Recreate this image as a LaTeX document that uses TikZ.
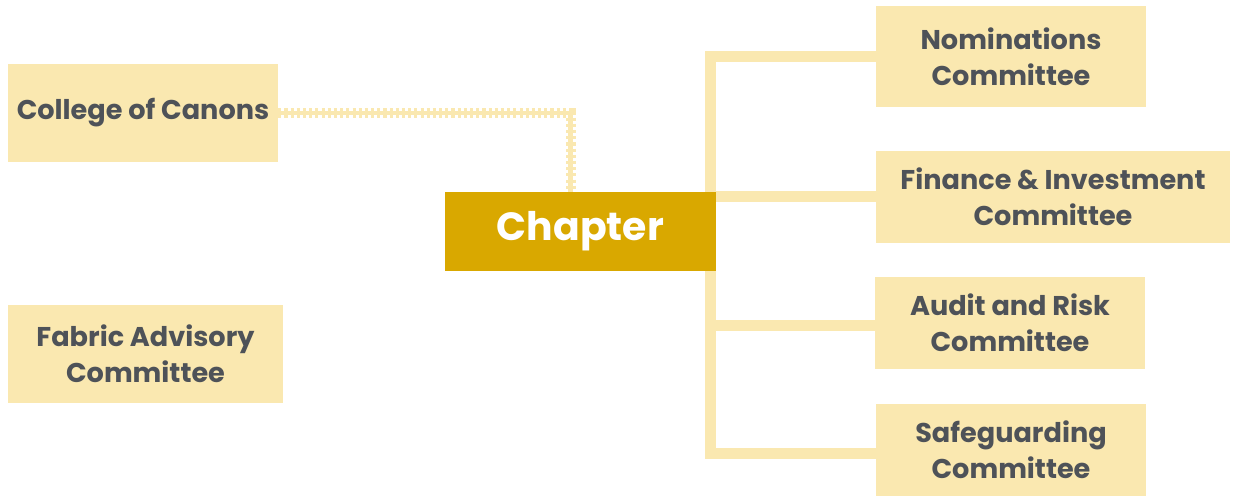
\documentclass[tikz,border=0pt]{standalone}
\usepackage{fontspec}
\setmainfont{Poppins}
\usetikzlibrary{backgrounds}

\definecolor{boxfill}{HTML}{FAE8B0}
\definecolor{gold}{HTML}{D9A800}
\definecolor{inkgray}{HTML}{4E5258}

\tikzset{
  unit/.style={draw=none,fill=boxfill,text=inkgray,align=center,
    font=\bfseries\fontsize{19.3}{25.5}\selectfont,inner sep=0pt},
  branch/.style={boxfill,line width=0.275cm},
  ladder/.style={boxfill,line width=0.25cm,dash pattern=on 2.2pt off 2.2pt,
    postaction={draw,boxfill,solid,line width=0.11cm}}
}

\begin{document}
\begin{tikzpicture}
  \useasboundingbox (0,0) rectangle (30.825,-12.425);

  \node[unit,minimum width=6.75cm,minimum height=2.45cm] (canons) at (3.575,-2.825) {College of Canons};
  \node[unit,minimum width=6.875cm,minimum height=2.45cm] (fabric) at (3.6375,-8.85) {Fabric Advisory\\Committee};
  \node[unit,fill=gold,text=white,minimum width=6.775cm,minimum height=1.975cm,
    font=\bfseries\fontsize{28}{32}\selectfont] (chapter) at (14.5125,-5.7875) {Chapter};
  \node[unit,minimum width=6.75cm,minimum height=2.525cm] (nom) at (25.275,-1.4125) {Nominations\\Committee};
  \node[unit,minimum width=8.85cm,minimum height=2.3cm] (fin) at (26.325,-4.925) {Finance \& Investment\\Committee};
  \node[unit,minimum width=6.75cm,minimum height=2.3cm] (audit) at (25.25,-8.075) {Audit and Risk\\Committee};
  \node[unit,minimum width=6.75cm,minimum height=2.3cm] (safe) at (25.275,-11.25) {Safeguarding\\Committee};

  \begin{pgfonlayer}{background}
    \fill[white] (0,0) rectangle (30.825,-12.425);
    % chapter to its committees
    \draw[branch] (nom.west) -| ([xshift=-0.1375cm]chapter.north east);
    \draw[branch] (fin.west) -| ([xshift=-0.1375cm]chapter.north east);
    \draw[branch] ([yshift=-0.075cm]audit.west) -| ([xshift=-0.1375cm]chapter.south east);
    \draw[branch] ([yshift=-0.1cm]safe.west) -| ([xshift=-0.1375cm]chapter.south east);
    % canons to chapter
    \draw[ladder] (canons.east) -| ([xshift=-0.25cm]chapter.north);
  \end{pgfonlayer}
\end{tikzpicture}
\end{document}
